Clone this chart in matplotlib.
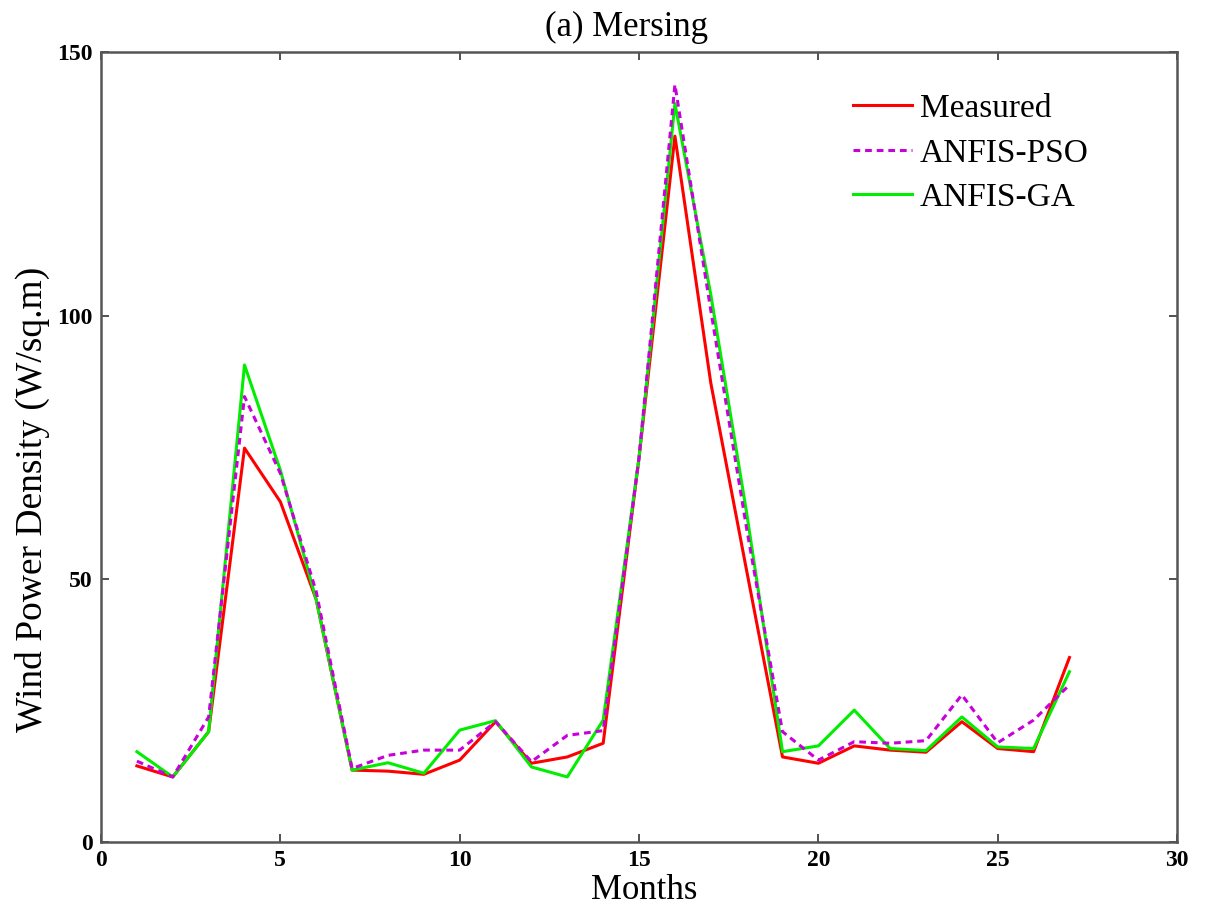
import matplotlib
matplotlib.use("Agg")
import matplotlib.pyplot as plt
from matplotlib.lines import Line2D

months = list(range(1, 28))
measured = [14.4, 12.3, 20.9, 74.8, 64.6, 46.0, 13.6, 13.4, 12.8, 15.5,
            22.8, 14.9, 16.1, 18.7, 73.0, 134.1, 87.2, 51.5, 16.1, 14.9,
            18.2, 17.4, 17.0, 22.8, 17.7, 17.1, 35.0]
anfis_pso = [15.3, 12.3, 23.7, 84.6, 70.0, 47.5, 13.9, 16.4, 17.4, 17.4,
             22.8, 15.2, 20.2, 21.1, 73.0, 143.9, 101.0, 59.5, 20.9, 15.5,
             19.0, 18.7, 19.2, 27.9, 18.8, 23.1, 29.8]
anfis_ga = [17.1, 12.3, 20.9, 90.6, 70.6, 46.0, 13.6, 15.0, 13.0, 21.2,
            23.0, 14.2, 12.3, 23.1, 73.0, 140.3, 104.0, 62.5, 17.1, 18.2,
            25.0, 17.7, 17.3, 23.7, 18.0, 17.7, 32.3]

x_ticks = [0, 5, 10, 15, 20, 25, 30]
y_ticks = [0, 50, 100, 150]

plt.rcParams['font.family'] = ['Liberation Serif', 'DejaVu Serif']

red = '#ff0000'
green = '#00ee00'
purple = '#c800dc'

fig = plt.figure(figsize=(12.07, 9.05), dpi=100)
ax = fig.add_axes([0.0837, 0.070, 0.8915, 0.872])

ax.plot(months, measured, color=red, lw=2.2, zorder=3)
ax.plot(months, anfis_ga, color=green, lw=2.2, zorder=4)
ax.plot(months, anfis_pso, color=purple, lw=2.2, ls=(0, (2.2, 1.6)), zorder=5)

ax.set_xlim(0, 30)
ax.set_ylim(0, 150)
ax.set_xticks(x_ticks)
ax.set_yticks(y_ticks)
ax.tick_params(direction='in', top=True, right=True, length=6, width=1.2,
               labelsize=17, color='#333333', pad=6)
for lab in ax.get_xticklabels() + ax.get_yticklabels():
    lab.set_fontweight('bold')
for s in ax.spines.values():
    s.set_color('#555555')
    s.set_linewidth(1.8)

ax.set_title('(a) Mersing', fontsize=25, pad=12, x=0.488)
ax.set_xlabel('Months', fontsize=25, labelpad=2)
ax.xaxis.label.set_x(0.5046)
ax.set_ylabel('Wind Power Density (W/sq.m)', fontsize=27)
ax.yaxis.set_label_coords(-0.047, 0.434)

handles = [Line2D([], [], color=red, lw=2.2),
           Line2D([], [], color=purple, lw=2.2, ls=(0, (2.2, 1.6))),
           Line2D([], [], color=green, lw=2.2)]
ax.legend(handles, ['Measured', 'ANFIS-PSO', 'ANFIS-GA'], loc='upper left',
          bbox_to_anchor=(0.699, 0.948), frameon=False, fontsize=24,
          handlelength=1.75, handletextpad=0.25, labelspacing=0.42,
          borderpad=0, borderaxespad=0)

fig.savefig('out.png', dpi=100, facecolor='white')
